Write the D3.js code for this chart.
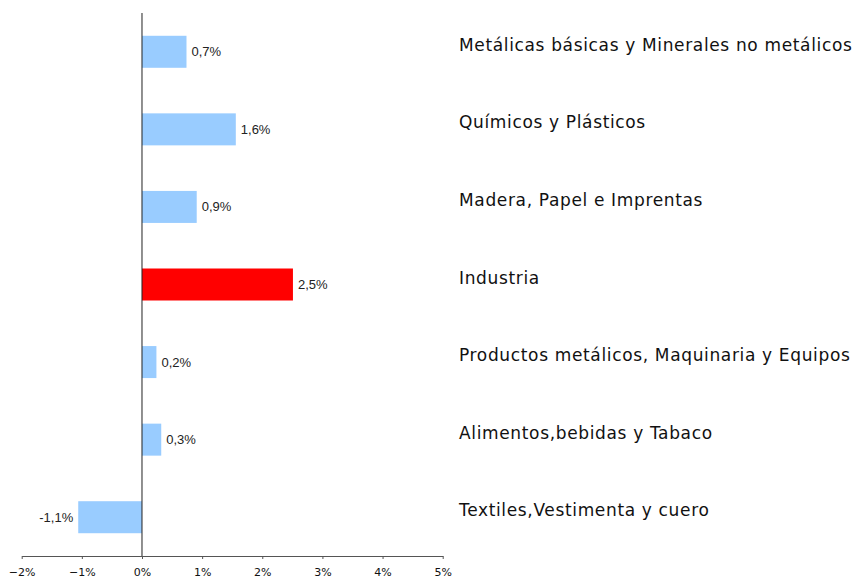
<!DOCTYPE html>
<html><head><meta charset="utf-8">
<script src="https://d3js.org/d3.v7.min.js"></script>
<style>body{margin:0;background:#fff}</style>
</head><body>
<script>
const categories = ["Metálicas básicas y Minerales no metálicos","Químicos y Plásticos","Madera, Papel e Imprentas","Industria","Productos metálicos, Maquinaria y Equipos","Alimentos,bebidas y Tabaco","Textiles,Vestimenta y cuero"];
const values = [0.74, 1.56, 0.91, 2.51, 0.24, 0.32, -1.06];
const highlight = ["Industria"];
const tickValues = [-2,-1,0,1,2,3,4,5];

const W = 854, H = 579;
const svg = d3.select("body").append("svg").attr("width", W).attr("height", H);
const x = d3.scaleLinear().domain([-2, 5]).range([21.7, 442.7]);
const y = d3.scaleBand().domain(categories).range([13, 556]).padding(0);
const bh = 32;

const fmt = v => v.toFixed(1).replace(".", ",") + "%";

svg.selectAll("rect.bar").data(categories).join("rect")
  .attr("class","bar")
  .attr("x", (c,i) => x(Math.min(0, values[i])))
  .attr("width", (c,i) => Math.abs(x(values[i]) - x(0)))
  .attr("y", c => y(c) + y.bandwidth()/2 - bh/2)
  .attr("height", bh)
  .attr("fill", c => highlight.includes(c) ? "#ff0000" : "#99ccff");

svg.selectAll("text.val").data(categories).join("text")
  .attr("class","val")
  .attr("x", (c,i) => values[i] >= 0 ? x(values[i]) + 5 : x(values[i]) - 5)
  .attr("y", c => y(c) + y.bandwidth()/2 + 4.5)
  .attr("text-anchor", (c,i) => values[i] >= 0 ? "start" : "end")
  .attr("font-family", "Liberation Sans, Arial, sans-serif")
  .attr("font-size", 13)
  .attr("fill", "#222")
  .text((c,i) => fmt(values[i]));

svg.selectAll("text.cat").data(categories).join("text")
  .attr("class","cat")
  .attr("x", 459)
  .attr("y", c => y(c) + y.bandwidth()/2 - 1)
  .attr("font-family", "DejaVu Sans, Verdana, sans-serif")
  .attr("font-size", 17)
  .attr("letter-spacing", 0.65)
  .attr("fill", "#111")
  .text(c => c);

// vertical zero line
svg.append("line")
  .attr("x1", x(0)).attr("x2", x(0))
  .attr("y1", 13).attr("y2", 556)
  .attr("stroke", "#222").attr("stroke-width", 1);

const axis = d3.axisBottom(x).tickValues(tickValues).tickSize(3).tickSizeOuter(0)
  .tickFormat(d => (d < 0 ? "\u2212" + Math.abs(d) : d) + "%");
const g = svg.append("g").attr("transform", "translate(0,556)").call(axis);
g.select(".domain").attr("stroke", "#555");
g.selectAll(".tick line").attr("stroke", "#555");
g.selectAll(".tick text").attr("font-family", "DejaVu Sans, Verdana, sans-serif")
  .attr("font-size", 11).attr("fill", "#111").attr("dy", "1.3em");
</script>
</body></html>
